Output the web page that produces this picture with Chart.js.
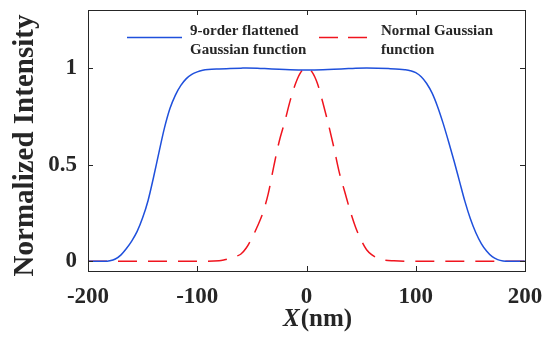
<!DOCTYPE html>
<html>
<head>
<meta charset="utf-8">
<script src="https://cdn.jsdelivr.net/npm/chart.js@4.4.1/dist/chart.umd.min.js"></script>
<style>
  html, body { margin: 0; padding: 0; background: #ffffff; }
  #wrap { width: 543px; height: 346px; position: relative; }
</style>
</head>
<body>
<div id="wrap"><canvas id="c" width="543" height="346"></canvas></div>
<script>
// ---- Data ----
const xTickValues = [-200, -100, 0, 100, 200];
const yTickValues = [0, 0.5, 1];
const yTickLabels = ["0", "0.5", "1"];

const seriesNames = ["9-order flattened|Gaussian function", "Normal Gaussian|function"];

// 9-order flattened Gaussian (blue, solid)
const flatX = [-200, -190, -185, -180, -175, -170, -165, -160, -155, -150, -145, -140, -135, -130, -125, -120, -115, -110, -105, -100, -95, -90, -80, -70, -60, -55, -45, -35, -25, -15, 0, 15, 25, 35, 45, 55, 65, 75, 85, 90, 95, 100, 105, 110, 115, 120, 125, 130, 135, 140, 145, 150, 155, 160, 165, 170, 175, 180, 185, 190, 200];
const flatY = [0, 0, 0, 0.003, 0.012, 0.032, 0.065, 0.105, 0.155, 0.225, 0.315, 0.435, 0.565, 0.69, 0.79, 0.86, 0.91, 0.945, 0.967, 0.98, 0.988, 0.992, 0.995, 0.997, 0.999, 1.0, 0.999, 0.996, 0.993, 0.991, 0.99, 0.991, 0.993, 0.996, 0.999, 1.0, 0.999, 0.997, 0.994, 0.991, 0.986, 0.976, 0.955, 0.92, 0.87, 0.80, 0.715, 0.62, 0.52, 0.415, 0.31, 0.22, 0.148, 0.092, 0.052, 0.024, 0.009, 0.002, 0, 0, 0];

// Normal Gaussian (red, dashed)
const gaussX = [-200, -100, -80, -75, -70, -65, -60, -55, -50, -45, -40, -35, -30, -25, -20, -15, -10, -5, 0, 5, 10, 15, 20, 25, 30, 35, 40, 45, 50, 55, 60, 65, 70, 80, 100, 200];
const gaussY = [0, 0, 0.003, 0.008, 0.015, 0.025, 0.038, 0.07, 0.12, 0.18, 0.25, 0.35, 0.49, 0.62, 0.72, 0.83, 0.92, 0.98, 1.0, 0.98, 0.92, 0.82, 0.71, 0.59, 0.46, 0.36, 0.26, 0.175, 0.11, 0.06, 0.033, 0.017, 0.008, 0.003, 0, 0];

const BLUE = "#1f50dc";
const RED = "#f0141e";
const FONT = "'Liberation Serif', 'Times New Roman', Times, serif";
const INK = "#262626";

function toPoints(xs, ys) { return xs.map((x, i) => ({ x: x, y: ys[i] })); }
function noPad(s) { s.paddingTop = 0; s.paddingBottom = 0; s.paddingLeft = 0; s.paddingRight = 0; }

const decor = {
  id: "decor",
  afterDraw(chart) {
    const ctx = chart.ctx;
    const a = chart.chartArea;
    const xs = chart.scales.x, ys = chart.scales.y;
    ctx.save();
    // frame box
    ctx.strokeStyle = INK;
    ctx.lineWidth = 1;
    ctx.strokeRect(Math.round(a.left) + 0.5, Math.round(a.top) + 0.5, Math.round(a.right - a.left), Math.round(a.bottom - a.top));
    // inward ticks
    const tl = 5;
    ctx.beginPath();
    xTickValues.forEach(v => {
      const px = Math.round(xs.getPixelForValue(v)) + 0.5;
      ctx.moveTo(px, a.bottom); ctx.lineTo(px, a.bottom - tl);
      ctx.moveTo(px, a.top); ctx.lineTo(px, a.top + tl);
    });
    yTickValues.forEach(v => {
      const py = Math.round(ys.getPixelForValue(v)) + 0.5;
      ctx.moveTo(a.left, py); ctx.lineTo(a.left + tl, py);
      ctx.moveTo(a.right, py); ctx.lineTo(a.right - tl, py);
    });
    ctx.stroke();

    // y title
    ctx.fillStyle = INK;
    ctx.save();
    ctx.translate(33, 145.5);
    ctx.rotate(-Math.PI / 2);
    ctx.font = "bold 29px " + FONT;
    ctx.textAlign = "center";
    ctx.textBaseline = "alphabetic";
    ctx.fillText("Normalized Intensity", 0, 0);
    ctx.restore();

    // x title: italic X + (nm)
    ctx.textBaseline = "alphabetic";
    ctx.textAlign = "left";
    const f1 = "italic bold 25px " + FONT, f2 = "bold 25px " + FONT;
    ctx.font = f1; const w1 = ctx.measureText("X").width;
    ctx.font = f2; const w2 = ctx.measureText("(nm)").width;
    const sx = 317 - (w1 + w2) / 2;
    ctx.font = f1; ctx.fillText("X", sx, 326);
    ctx.font = f2; ctx.fillText("(nm)", sx + w1 + 1, 326);

    // legend
    const names = seriesNames.map(s => s.split("|"));
    ctx.lineWidth = 1.5;
    ctx.strokeStyle = BLUE;
    ctx.setLineDash([]);
    ctx.beginPath(); ctx.moveTo(127, 37.5); ctx.lineTo(182, 37.5); ctx.stroke();
    ctx.strokeStyle = RED;
    ctx.setLineDash([19, 10]);
    ctx.beginPath(); ctx.moveTo(319, 37.5); ctx.lineTo(368, 37.5); ctx.stroke();
    ctx.setLineDash([]);
    ctx.font = "bold 15px " + FONT;
    ctx.fillStyle = INK;
    ctx.fillText(names[0][0], 190, 34.5);
    ctx.fillText(names[0][1], 190, 53.5);
    ctx.fillText(names[1][0], 381, 34.5);
    ctx.fillText(names[1][1], 381, 53.5);
    ctx.restore();
  }
};

new Chart(document.getElementById("c"), {
  type: "line",
  data: {
    datasets: [
      {
        label: seriesNames[0].replace("|", " "),
        data: toPoints(flatX, flatY),
        borderColor: BLUE,
        borderWidth: 1.5,
        pointRadius: 0,
        fill: false,
        cubicInterpolationMode: "monotone"
      },
      {
        label: seriesNames[1].replace("|", " "),
        data: toPoints(gaussX, gaussY),
        borderColor: RED,
        borderWidth: 1.5,
        borderDash: [19, 11],
        pointRadius: 0,
        fill: false,
        cubicInterpolationMode: "monotone"
      }
    ]
  },
  options: {
    responsive: false,
    animation: false,
    devicePixelRatio: 1,
    layout: { autoPadding: false, padding: { top: 10, right: 18, left: 0, bottom: 0 } },
    plugins: { legend: { display: false }, tooltip: { enabled: false } },
    scales: {
      x: {
        type: "linear",
        min: -200, max: 200,
        afterBuildTicks(s) { s.ticks = xTickValues.map(v => ({ value: v })); },
        afterFit(s) { s.height = 75; noPad(s); },
        grid: { display: false, drawTicks: false },
        border: { display: false },
        ticks: { color: INK, padding: 12, maxRotation: 0, autoSkip: false, callback: v => String(v), font: { family: FONT, size: 23, weight: "bold" } }
      },
      y: {
        type: "linear",
        min: -0.05, max: 1.3,
        afterBuildTicks(s) { s.ticks = yTickValues.map(v => ({ value: v })); },
        afterFit(s) { s.width = 88; noPad(s); },
        grid: { display: false, drawTicks: false },
        border: { display: false },
        ticks: { color: INK, padding: 11, autoSkip: false, callback: v => yTickLabels[yTickValues.indexOf(v)] ?? String(v), font: { family: FONT, size: 23, weight: "bold" } }
      }
    }
  },
  plugins: [decor]
});
</script>
</body>
</html>
